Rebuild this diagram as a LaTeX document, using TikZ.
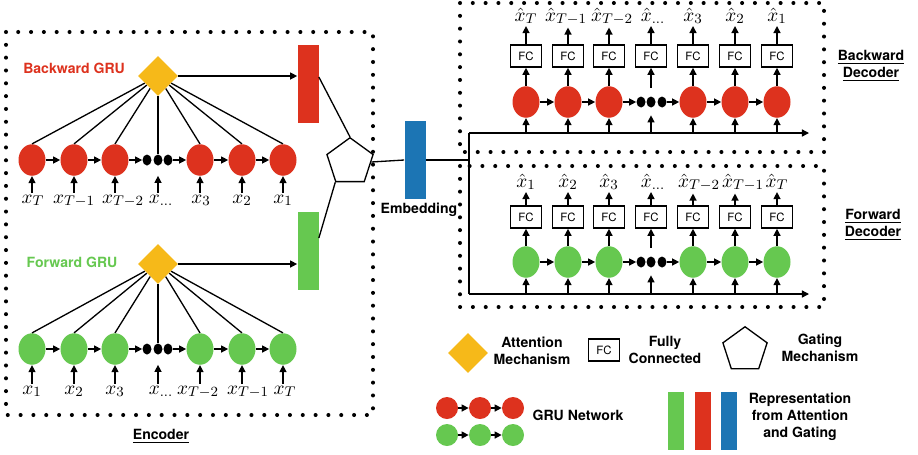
\documentclass[tikz,border=0pt]{standalone}
\usepackage{fontspec}
\setsansfont{TeX Gyre Heros}
\usetikzlibrary{arrows.meta, positioning, shapes.geometric, calc}

\definecolor{GruRed}{RGB}{221, 50, 30}
\definecolor{GruGreen}{RGB}{102, 200, 80}
\definecolor{AttnGold}{RGB}{246, 185, 25}
\definecolor{EmbBlue}{RGB}{28, 117, 180}

\begin{document}
\begin{tikzpicture}[x=0.02cm, y=-0.02cm]
        \tikzstyle{arrow} = [-{Triangle[length=4pt, width=4pt]}, line width=0.75pt, black]
        \tikzstyle{link} = [line width=0.75pt, black]
        \tikzstyle{gru} = [ellipse, inner sep=0pt, minimum width=0.54cm, minimum height=0.63cm]
        \tikzstyle{gapdot} = [ellipse, fill=black, inner sep=0pt, minimum width=0.18cm, minimum height=0.22cm]
        \tikzstyle{attn} = [diamond, fill=AttnGold, inner sep=0pt, minimum size=0.8cm]
        \tikzstyle{repbar} = [rectangle, inner sep=0pt, minimum width=0.42cm, minimum height=1.56cm]
        \tikzstyle{gate} = [regular polygon, regular polygon sides=5, draw, line width=0.75pt, inner sep=0pt, minimum size=0.97cm]
        \tikzstyle{fcbox} = [rectangle, draw, line width=0.9pt, inner sep=0pt, minimum width=0.62cm, minimum height=0.44cm, font=\sffamily\fontsize{6.5}{7}\selectfont]
        \tikzstyle{dotbox} = [line width=2.3pt, line cap=round, dash pattern=on 0pt off 7.3pt]
        \tikzstyle{title} = [font=\sffamily\bfseries\fontsize{8}{9.6}\selectfont, align=center]
        \tikzstyle{var} = [anchor=base, inner sep=1pt, font=\fontsize{11}{13}\selectfont]

        \useasboundingbox (0,0) rectangle (918,454);

        % Dotted frames
        \draw [dotbox] (6,32) rectangle (373,415);
        \draw [dotbox] (460,3) rectangle (824,152);
        \draw [dotbox] (460,166) rectangle (824,307);

        % Encoder: backward GRU
        \node (bwtitle) [title, text=GruRed] at (74,68) {Backward GRU};
        \node (bwattn) [attn] at (158,76) {};
        \node (bwrep) [repbar, fill=GruRed] at (308,84) {};
        \foreach \i/\x/\s/\dx in {1/32/T/1, 2/74/{T-1}/0, 3/115/{T-2}/8, 4/200/3/1, 5/242/2/0, 6/283/1/0} {
            \node (bw\i) [gru, fill=GruRed] at (\x,160) {};
            \node (bwx\i) [var] at (\x+\dx,203) {$x_{\s}$};
            \draw [arrow] (bw\i |- bwx\i.north) -- (bw\i.south);
            \draw [link] (bwattn) -- (bw\i.north);
        }
        \foreach \i/\x in {1/147, 2/158, 3/168}
            \node (bwd\i) [gapdot] at (\x,160) {};
        \node (bwxd) [var] at (161,203) {$x_{\dots}$};
        \draw [arrow, shorten >=0.2cm] (bwd2 |- bwxd.north) -- (bwd2.south);
        \draw [link] (bwattn.south) -- (bwd2.north);
        \draw [arrow] (bw1) -- (bw2);
        \draw [arrow] (bw2) -- (bw3);
        \draw [arrow] (bw3) -- (bwd1);
        \draw [arrow] (bwd3) -- (bw4);
        \draw [arrow] (bw4) -- (bw5);
        \draw [arrow] (bw5) -- (bw6);
        \draw [arrow] (bwattn.east) -- (bwattn.east -| bwrep.west);

        % Encoder: forward GRU
        \node (fwtitle) [title, text=GruGreen] at (72,262) {Forward GRU};
        \node (fwattn) [attn] at (158,264) {};
        \node (fwrep) [repbar, fill=GruGreen] at (308,251) {};
        \foreach \i/\x/\s/\dx in {1/32/1/0, 2/74/2/0, 3/115/3/0, 4/200/{T-2}/-2, 5/242/{T-1}/6, 6/283/T/2} {
            \node (fw\i) [gru, fill=GruGreen] at (\x,349) {};
            \node (fwx\i) [var] at (\x+\dx,394) {$x_{\s}$};
            \draw [arrow] (fw\i |- fwx\i.north) -- (fw\i.south);
            \draw [link] (fwattn) -- (fw\i.north);
        }
        \foreach \i/\x in {1/147, 2/158, 3/168}
            \node (fwd\i) [gapdot] at (\x,349) {};
        \node (fwxd) [var] at (161,394) {$x_{\dots}$};
        \draw [arrow, shorten >=0.2cm] (fwd2 |- fwxd.north) -- (fwd2.south);
        \draw [link] (fwattn.south) -- (fwd2.north);
        \draw [arrow] (fw1) -- (fw2);
        \draw [arrow] (fw2) -- (fw3);
        \draw [arrow] (fw3) -- (fwd1);
        \draw [arrow] (fwd3) -- (fw4);
        \draw [arrow] (fw4) -- (fw5);
        \draw [arrow] (fw5) -- (fw6);
        \draw [arrow] (fwattn.east) -- (fwattn.east -| fwrep.west);

        \node (enc) [title] at (161,436) {\underline{Encoder}};

        % Gating and embedding
        \node (gate) [gate] at (350,162) {};
        \draw [link] ([yshift=0.14cm]bwrep.east) -- (gate.corner 1);
        \draw [link] ([yshift=0.26cm]fwrep.east) -- (gate.corner 3);
        \node (emb) [repbar, fill=EmbBlue] at (415,160) {};
        \node (embtxt) [title] at (419,210) {Embedding};
        \draw [link] (gate.east) -- (emb.west);

        \coordinate (split) at (469,160);
        \coordinate (bwbase) at (469,133);
        \coordinate (fwbase) at (469,294);
        \coordinate (bwend) at (809,133);
        \coordinate (fwend) at (809,294);
        \draw [link] (emb.east) -- (split);
        \draw [link] (bwbase) -- (fwbase);
        \draw [arrow] (bwbase) -- (bwend);
        \draw [arrow] (fwbase) -- (fwend);

        % Backward decoder
        \foreach \i/\x/\s/\dx in {1/526/T/0, 2/568/{T-1}/-2, 3/609/{T-2}/3, 4/693/3/0, 5/735/2/0, 6/777/1/0} {
            \node (bd\i) [gru, fill=GruRed] at (\x,102) {};
            \node (bdfc\i) [fcbox] at (\x,56) {FC};
            \node (bdy\i) [var] at (\x+\dx,21) {$\hat{x}_{\s}$};
            \draw [arrow] (bd\i.south |- bwbase) -- (bd\i.south);
            \draw [arrow] (bd\i.north) -- (bdfc\i.south);
            \draw [arrow] (bdfc\i.north) -- (bdfc\i.north |- bdy\i.south);
        }
        \foreach \i/\x in {1/641, 2/651, 3/662}
            \node (bdd\i) [gapdot] at (\x,102) {};
        \node (bdfcm) [fcbox] at (651,56) {FC};
        \node (bdym) [var] at (653,21) {$\hat{x}_{\dots}$};
        \draw [arrow, shorten >=0.15cm] (bdd2.south |- bwbase) -- (bdd2.south);
        \draw [arrow, shorten <=0.17cm] (bdd2.north) -- (bdfcm.south);
        \draw [arrow] (bdfcm.north) -- (bdfcm.north |- bdym.south);
        \draw [arrow] (bd1) -- (bd2);
        \draw [arrow] (bd2) -- (bd3);
        \draw [arrow] (bd3) -- (bdd1);
        \draw [arrow] (bdd3) -- (bd4);
        \draw [arrow] (bd4) -- (bd5);
        \draw [arrow] (bd5) -- (bd6);
        \node (bwdec) [title] at (871,66) {\underline{Backward}\\\underline{Decoder}};

        % Forward decoder
        \foreach \i/\x/\s/\dx in {1/526/1/0, 2/568/2/0, 3/609/3/0, 4/693/{T-2}/6, 5/735/{T-1}/8, 6/777/T/0} {
            \node (fd\i) [gru, fill=GruGreen] at (\x,262) {};
            \node (fdfc\i) [fcbox] at (\x,217) {FC};
            \node (fdy\i) [var] at (\x+\dx,187) {$\hat{x}_{\s}$};
            \draw [arrow] (fd\i.south |- fwbase) -- (fd\i.south);
            \draw [arrow] (fd\i.north) -- (fdfc\i.south);
            \draw [arrow] (fdfc\i.north) -- (fdfc\i.north |- fdy\i.south);
        }
        \foreach \i/\x in {1/641, 2/651, 3/662}
            \node (fdd\i) [gapdot] at (\x,262) {};
        \node (fdfcm) [fcbox] at (651,217) {FC};
        \node (fdym) [var] at (653,187) {$\hat{x}_{\dots}$};
        \draw [arrow, shorten >=0.15cm] (fdd2.south |- fwbase) -- (fdd2.south);
        \draw [arrow, shorten <=0.17cm] (fdd2.north) -- (fdfcm.south);
        \draw [arrow] (fdfcm.north) -- (fdfcm.north |- fdym.south);
        \draw [arrow] (fd1) -- (fd2);
        \draw [arrow] (fd2) -- (fd3);
        \draw [arrow] (fd3) -- (fdd1);
        \draw [arrow] (fdd3) -- (fd4);
        \draw [arrow] (fd4) -- (fd5);
        \draw [arrow] (fd5) -- (fd6);
        \node (fwdec) [title] at (873,225) {\underline{Forward}\\\underline{Decoder}};

        % Legend
        \node (legattn) [attn] at (468,353) {};
        \node (legattntxt) [title] at (532,351) {Attention\\Mechanism};
        \node (legfc) [fcbox] at (604,350) {FC};
        \node (legfctxt) [title] at (665,350) {Fully\\Connected};
        \node (leggate) [gate, minimum size=0.93cm] at (745,350) {};
        \node (leggatetxt) [title] at (820,348) {Gating\\Mechanism};

        \foreach \i/\x in {1/447, 2/480, 3/513} {
            \node (lr\i) [gru, minimum width=0.44cm, minimum height=0.44cm, fill=GruRed] at (\x,408) {};
            \node (lg\i) [gru, minimum width=0.44cm, minimum height=0.44cm, fill=GruGreen] at (\x,435) {};
        }
        \draw [arrow] (lr1) -- (lr2);
        \draw [arrow] (lr2) -- (lr3);
        \draw [arrow] (lg1) -- (lg2);
        \draw [arrow] (lg2) -- (lg3);
        \node (legnet) [title] at (578,415) {GRU Network};

        \node (leggreen) [repbar, fill=GruGreen, minimum width=0.32cm, minimum height=1.16cm] at (676,421) {};
        \node (legred) [repbar, fill=GruRed, minimum width=0.32cm, minimum height=1.16cm] at (703,421) {};
        \node (legblue) [repbar, fill=EmbBlue, minimum width=0.32cm, minimum height=1.16cm] at (729,421) {};
        \node (legrep) [title] at (800,417) {Representation\\from Attention\\and Gating};
    \end{tikzpicture}
\end{document}
